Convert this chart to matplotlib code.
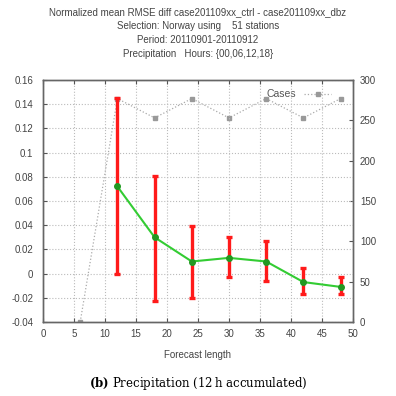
import matplotlib
matplotlib.use('Agg')
import matplotlib.pyplot as plt
import numpy as np

plt.rc('font', family='Liberation Sans', size=7)
plt.rcParams['mathtext.fontset'] = 'dejavuserif'

# data
lead = [12, 18, 24, 30, 36, 42, 48]
mean_diff = [0.072, 0.030, 0.010, 0.013, 0.010, -0.007, -0.011]
err_lo = [0.000, -0.023, -0.020, -0.003, -0.006, -0.017, -0.017]
err_hi = [0.145, 0.081, 0.039, 0.030, 0.027, 0.005, -0.003]
case_lead = [6, 12, 18, 24, 30, 36, 42, 48]
cases = [0, 277, 253, 277, 253, 277, 253, 277]

title_lines = ['Normalized mean RMSE diff case201109xx_ctrl - case201109xx_dbz',
               'Selection: Norway using    51 stations',
               'Period: 20110901-20110912',
               'Precipitation   Hours: {00,06,12,18}']

fig = plt.figure(figsize=(3.96, 3.96), dpi=100)
ax = fig.add_axes([43/396, 1-322/396, 310/396, 242/396])
ax2 = ax.twinx()

lead = np.array(lead)
mean_diff = np.array(mean_diff)
yerr = [mean_diff - np.array(err_lo), np.array(err_hi) - mean_diff]

ax2.plot(case_lead, cases, ls=':', color='#aaaaaa', lw=0.9, marker='s', ms=3,
         mfc='#999999', mec='#999999', label='Cases')
ax2.set_ylim(0, 300)
ax2.set_yticks(np.arange(0, 301, 50))
ax2.tick_params(direction='in', length=3, colors='#555555', labelcolor='#444444', pad=5)
leg = ax2.legend(loc='upper right', bbox_to_anchor=(0.96, 1.0), frameon=False,
                 handlelength=2.6, markerfirst=False, fontsize=7.5)
for t in leg.get_texts():
    t.set_color('#555555')

ax.errorbar(lead, mean_diff, yerr=yerr, fmt='none', ecolor='#ff1a1a', elinewidth=2.4,
            capsize=2.5, capthick=2.4, zorder=3)
ax.plot(lead, mean_diff, color='#33cc33', lw=1.5, marker='o', ms=4,
        mfc='#229922', mec='#229922', zorder=4)

ax.set_zorder(ax2.get_zorder() + 1)
ax.patch.set_visible(False)

ax.set_xlim(0, 50)
ax.set_ylim(-0.04, 0.16)
ax.set_xticks(np.arange(0, 51, 5))
ax.set_yticks(np.arange(-0.04, 0.161, 0.02))
ax.set_yticklabels(['-0.04', '-0.02', '0', '0.02', '0.04', '0.06', '0.08', '0.1',
                    '0.12', '0.14', '0.16'])
ax.grid(True, ls=':', color='#bbbbbb', lw=0.8)
ax.tick_params(direction='in', length=3, top=True, colors='#555555',
               labelcolor='#444444', pad=7)
ax.tick_params(axis='x', pad=5)
for a in (ax, ax2):
    for s in a.spines.values():
        s.set_color('#666666')
        s.set_linewidth(1.0)
ax.set_xlabel('Forecast length', color='#444444', labelpad=8)

for i, line in enumerate(title_lines):
    fig.text(0.5, 1 - (12 + 14 * i) / 396, line, ha='center', va='center',
             color='#444444', fontsize=7)

fig.text(0.5, 1 - 383/396, r'$\mathbf{(b)}$ Precipitation (12$\,$h accumulated)',
         ha='center', va='center', family='DejaVu Serif', fontsize=8.5)

fig.savefig('out.png', dpi=100)
